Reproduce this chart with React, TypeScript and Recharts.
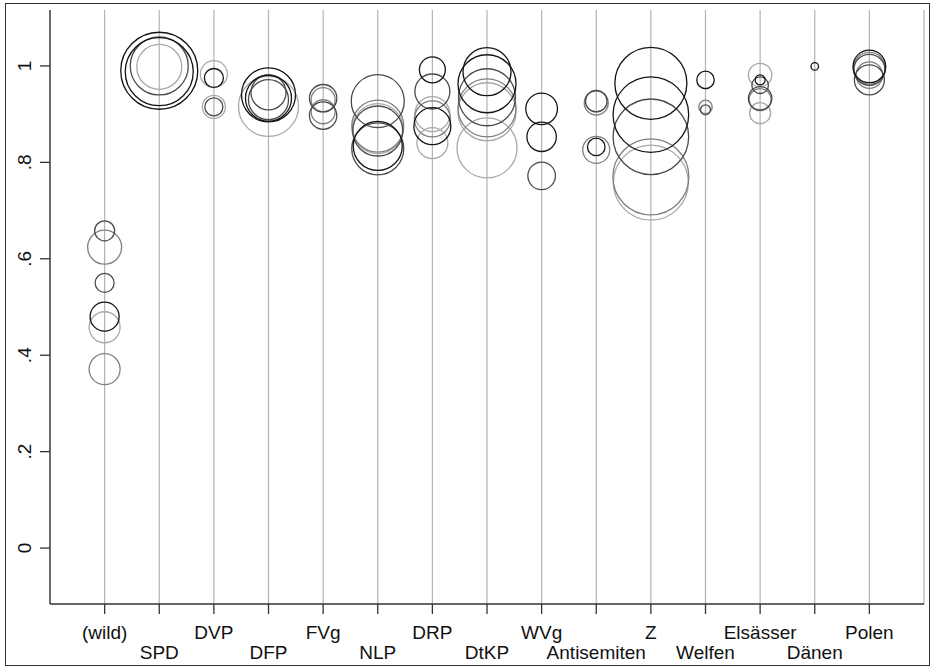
import React from "react";
import {
  CartesianGrid,
  Scatter,
  ScatterChart,
  XAxis,
  YAxis,
  ZAxis,
} from "recharts";

const parties = [
  "(wild)", "SPD", "DVP", "DFP", "FVg", "NLP", "DRP", "DtKP",
  "WVg", "Antisemiten", "Z", "Welfen", "Elsässer", "Dänen", "Polen",
];

const yTicks = [0, 0.2, 0.4, 0.6, 0.8, 1];

// [party, share, weight] - weight drives bubble area
type Row = [string, number, number];

const blackRows: Row[] = [
  ["(wild)", 0.48, 210],
  ["SPD", 0.99, 1482], ["SPD", 0.988, 1156],
  ["DVP", 0.975, 90],
  ["DFP", 0.94, 729], ["DFP", 0.933, 529],
  ["NLP", 0.834, 600],
  ["DRP", 0.992, 169], ["DRP", 0.875, 342],
  ["DtKP", 0.988, 576], ["DtKP", 0.963, 841],
  ["WVg", 0.911, 250], ["WVg", 0.853, 216],
  ["Antisemiten", 0.832, 77],
  ["Z", 0.964, 1296], ["Z", 0.899, 1429],
  ["Welfen", 0.971, 76],
  ["Elsässer", 0.971, 25],
  ["Dänen", 0.999, 14],
  ["Polen", 0.999, 266],
];

const darkRows: Row[] = [
  ["(wild)", 0.55, 90], ["(wild)", 0.658, 100],
  ["SPD", 1.0, 841],
  ["DVP", 0.915, 81],
  ["DFP", 0.93, 400], ["DFP", 0.945, 306],
  ["FVg", 0.933, 188], ["FVg", 0.897, 188],
  ["NLP", 0.927, 702], ["NLP", 0.865, 625], ["NLP", 0.828, 676],
  ["DRP", 0.947, 306],
  ["DtKP", 0.935, 812],
  ["WVg", 0.772, 190],
  ["Antisemiten", 0.927, 117],
  ["Z", 0.853, 1429],
  ["Welfen", 0.909, 25],
  ["Elsässer", 0.96, 69], ["Elsässer", 0.933, 137],
  ["Polen", 0.992, 240], ["Polen", 0.971, 225],
];

const midRows: Row[] = [
  ["(wild)", 0.624, 289], ["(wild)", 0.371, 240],
  ["FVg", 0.93, 144], ["FVg", 0.905, 144],
  ["NLP", 0.875, 676],
  ["DRP", 0.89, 324],
  ["DtKP", 0.913, 841],
  ["Antisemiten", 0.923, 144], ["Antisemiten", 0.826, 182],
  ["Z", 0.77, 1444],
  ["Welfen", 0.915, 45],
  ["Elsässer", 0.93, 121],
  ["Polen", 0.995, 256], ["Polen", 0.981, 177],
];

const lightRows: Row[] = [
  ["(wild)", 0.458, 240],
  ["SPD", 0.998, 506],
  ["DVP", 0.983, 182], ["DVP", 0.915, 132],
  ["DFP", 0.916, 900],
  ["NLP", 0.87, 625],
  ["DRP", 0.9, 306], ["DRP", 0.84, 240],
  ["DtKP", 0.905, 841], ["DtKP", 0.83, 900],
  ["Z", 0.758, 1406],
  ["Elsässer", 0.981, 137], ["Elsässer", 0.902, 110],
];

const toPoints = (rows: Row[]) =>
  rows.map(([p, y, z]) => ({ x: parties.indexOf(p) + 1, y, z }));

const font = "'Liberation Sans', Arial, sans-serif";

const ring = (color: string) => (props: any) => {
  const r = props.size != null ? Math.sqrt(props.size / Math.PI) : props.width / 2;
  return (
    <circle cx={props.cx} cy={props.cy} r={r} fill="none" stroke={color} strokeWidth={1.3} />
  );
};

const XTick = (props: any) => {
  const { x, y, payload } = props;
  const i = payload.value - 1;
  const dy = i % 2 === 0 ? 23 : 43;
  return (
    <text x={x} y={y + dy} textAnchor="middle" fontSize={19} fontFamily={font} fill="#111">
      {parties[i]}
    </text>
  );
};

const YTick = (props: any) => {
  const { y, payload } = props;
  const v = payload.value;
  const label = v === 0 ? "0" : v === 1 ? "1" : String(v).replace(/^0/, "");
  const px = 31;
  return (
    <text
      x={px}
      y={y}
      transform={`rotate(-90, ${px}, ${y})`}
      textAnchor="middle"
      fontSize={19}
      fontFamily={font}
      fill="#111"
    >
      {label}
    </text>
  );
};

export default function App() {
  return (
    <div
      style={{
        position: "absolute",
        left: 0,
        top: 0,
        width: 933,
        height: 669,
        background: "#fff",
      }}
    >
      <div
        style={{
          position: "absolute",
          left: 5,
          top: 3,
          width: 923,
          height: 661,
          border: "1.5px solid #333",
        }}
      />
      <ScatterChart
        width={933}
        height={669}
        margin={{ top: 10, right: 9, bottom: 10, left: 0 }}
        style={{ position: "absolute", left: 0, top: 0 }}
      >
        <CartesianGrid horizontal={false} stroke="#b3b3b3" strokeWidth={1.2} />
        <XAxis
          type="number"
          dataKey="x"
          domain={[0, 16]}
          ticks={parties.map((_, i) => i + 1)}
          interval={0}
          height={55}
          tickSize={10}
          stroke="#333"
          strokeWidth={1.3}
          tick={<XTick />}
        />
        <YAxis
          type="number"
          dataKey="y"
          domain={[-0.116, 1.116]}
          allowDataOverflow
          ticks={yTicks}
          width={50}
          tickSize={10}
          stroke="#333"
          strokeWidth={1.3}
          tick={<YTick />}
        />
        <ZAxis type="number" dataKey="z" domain={[0, 1500]} range={[0, 1500 * Math.PI]} />
        <Scatter data={toPoints(lightRows)} shape={ring("#a8a8a8")} isAnimationActive={false} />
        <Scatter data={toPoints(midRows)} shape={ring("#808080")} isAnimationActive={false} />
        <Scatter data={toPoints(darkRows)} shape={ring("#4a4a4a")} isAnimationActive={false} />
        <Scatter data={toPoints(blackRows)} shape={ring("#141414")} isAnimationActive={false} />
      </ScatterChart>
    </div>
  );
}
